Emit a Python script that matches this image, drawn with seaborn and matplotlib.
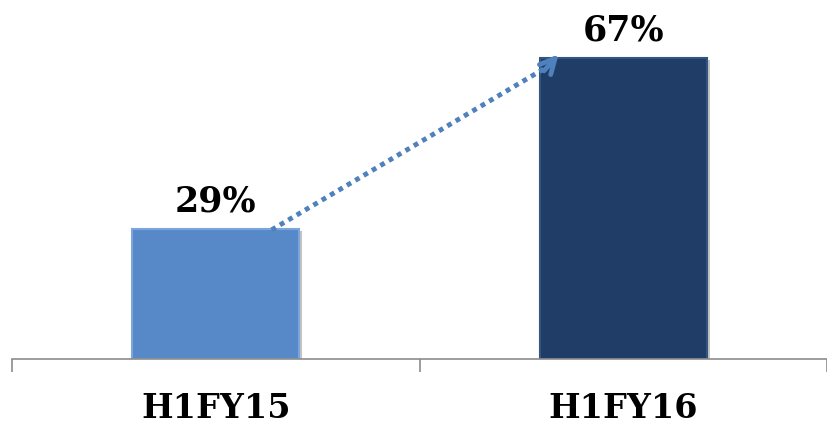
import matplotlib
matplotlib.use("Agg")
import matplotlib.pyplot as plt
import matplotlib.patheffects as pe
import seaborn as sns
import pandas as pd

categories = ["H1FY15", "H1FY16"]
values = [29, 67]
labels = ["29%", "67%"]
colors = ["#5788C8", "#1F3D66"]

sns.set_theme(style="white")
plt.rcParams["font.family"] = ["DejaVu Serif", "Liberation Serif"]

df = pd.DataFrame({"cat": categories, "val": values})

fig = plt.figure(figsize=(8.27, 4.25), dpi=100)
ax = fig.add_axes([12 / 827, 66 / 425, 815 / 827, 359 / 425])

sns.barplot(data=df, x="cat", y="val", hue="cat", palette=colors, width=0.41,
            legend=False, ax=ax, saturation=1)

for p, c in zip(ax.patches, ["#7AA6DC", "#34557F"]):
    p.set_edgecolor(c)
    p.set_linewidth(1.5)
    p.set_path_effects([pe.SimplePatchShadow(offset=(2, -2), shadow_rgbFace="#888888", alpha=0.5),
                        pe.Normal()])

ax.set_xlim(-0.5, 1.5)
ax.set_ylim(0, 79.8)

for i, (v, t) in enumerate(zip(values, labels)):
    ax.annotate(t, (i, v), xytext=(0, 12), textcoords="offset points",
                ha="center", va="baseline", fontsize=25, fontweight="bold", color="black")

# dotted growth arrow
x0, y0 = 0.137, 28.7
x1, y1 = 0.846, 68.2
ax.plot([x0, x1 - 0.035], [y0, y1 - 3.4], linestyle=(0, (1, 1)), linewidth=3.5,
        color="#4F81BD", dash_capstyle="butt", zorder=5)
ax.annotate("", xy=(x1, y1), xytext=(x1 - 0.045, y1 - 4.6),
            arrowprops=dict(arrowstyle="->,head_length=0.9,head_width=0.45",
                            color="#4F81BD", lw=3.5), zorder=6)

sns.despine(ax=ax, left=True, top=True, right=True)
ax.spines["bottom"].set_color("#8C8C8C")
ax.spines["bottom"].set_linewidth(1.2)
ax.set_yticks([])
ax.set_xlabel("")
ax.set_ylabel("")

ax.set_xticks([0, 1])
ax.set_xticklabels(categories, fontsize=24, fontweight="bold", color="black")
ax.tick_params(axis="x", which="major", length=0, pad=24)
ax.set_xticks([-0.5, 0.5, 1.5], minor=True)
ax.tick_params(axis="x", which="minor", length=9, width=1.2, color="#8C8C8C", direction="out", bottom=True)

fig.savefig("out.png", dpi=100)
